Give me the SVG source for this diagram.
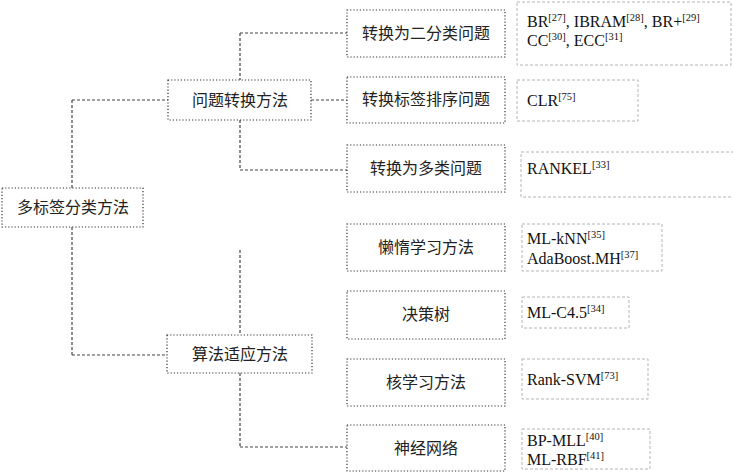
<svg xmlns="http://www.w3.org/2000/svg" width="733" height="473" viewBox="0 0 733 473">
<style>
.mid{fill:#fff;stroke:#333;stroke-width:1.2;stroke-dasharray:1.2 2}
.ref{fill:#fff;stroke:#b4b4b4;stroke-width:1;stroke-dasharray:3 2}
.cn{font-family:"Noto Sans CJK SC","Noto Sans CJK JP",sans-serif;font-size:16px;fill:#222;text-anchor:middle}
.en{font-family:"Liberation Serif",serif;font-size:16px;fill:#111}
.sup{font-size:10.5px}
.con{fill:none;stroke:#444;stroke-width:1.2;stroke-dasharray:3 2}
</style>
<rect width="733" height="473" fill="#fff"/>
<g id="connectors">
<path class="con" d="M72 100V188M72 227V355M72 100H168M72 355H167"/>
<path class="con" d="M240 33V80M240 120V170M240 33H347M311 100H347M240 170H347"/>
<path class="con" d="M240 250V335M240 373V447M240 447H347"/>
</g>
<g id="root"><rect class="mid" x="2" y="188" width="141" height="39"/><text class="cn" x="73" y="213">多标签分类方法</text></g>
<g id="pt"><rect class="mid" x="168" y="80" width="143" height="40"/><text class="cn" x="240" y="106">问题转换方法</text></g>
<g id="aa"><rect class="mid" x="167" y="335" width="145" height="38"/><text class="cn" x="240" y="360">算法适应方法</text></g>
<g id="m1"><rect class="mid" x="347" y="10" width="158" height="47"/><text class="cn" x="426" y="39">转换为二分类问题</text></g>
<g id="m2"><rect class="mid" x="347" y="77" width="158" height="46"/><text class="cn" x="426" y="105">转换标签排序问题</text></g>
<g id="m3"><rect class="mid" x="347" y="145" width="158" height="47"/><text class="cn" x="426" y="174">转换为多类问题</text></g>
<g id="m4"><rect class="mid" x="347" y="224" width="158" height="47"/><text class="cn" x="426" y="253">懒惰学习方法</text></g>
<g id="m5"><rect class="mid" x="347" y="291" width="158" height="48"/><text class="cn" x="426" y="320">决策树</text></g>
<g id="m6"><rect class="mid" x="347" y="359" width="158" height="47"/><text class="cn" x="426" y="388">核学习方法</text></g>
<g id="m7"><rect class="mid" x="347" y="425" width="158" height="46"/><text class="cn" x="426" y="454">神经网络</text></g>
<g id="r1"><rect class="ref" x="517" y="2" width="214" height="63"/>
<text class="en" x="527" y="27">BR<tspan class="sup" dy="-6">[27]</tspan><tspan dy="6">, IBRAM</tspan><tspan class="sup" dy="-6">[28]</tspan><tspan dy="6">, BR+</tspan><tspan class="sup" dy="-6">[29]</tspan></text>
<text class="en" x="527" y="46">CC<tspan class="sup" dy="-6">[30]</tspan><tspan dy="6">, ECC</tspan><tspan class="sup" dy="-6">[31]</tspan></text></g>
<g id="r2"><rect class="ref" x="517" y="80" width="121" height="41"/>
<text class="en" x="527" y="106">CLR<tspan class="sup" dy="-6">[75]</tspan></text></g>
<g id="r3"><rect class="ref" x="521" y="152" width="220" height="45"/>
<text class="en" x="527" y="174">RANKEL<tspan class="sup" dy="-6">[33]</tspan></text></g>
<g id="r4"><rect class="ref" x="522" y="224" width="140" height="47"/>
<text class="en" x="527" y="244">ML-kNN<tspan class="sup" dy="-6">[35]</tspan></text>
<text class="en" x="527" y="264">AdaBoost.MH<tspan class="sup" dy="-6">[37]</tspan></text></g>
<g id="r5"><rect class="ref" x="522" y="297" width="107" height="31"/>
<text class="en" x="527" y="318">ML-C4.5<tspan class="sup" dy="-6">[34]</tspan></text></g>
<g id="r6"><rect class="ref" x="522" y="359" width="126" height="40"/>
<text class="en" x="527" y="385">Rank-SVM<tspan class="sup" dy="-6">[73]</tspan></text></g>
<g id="r7"><rect class="ref" x="522" y="429" width="128" height="40"/>
<text class="en" x="527" y="446">BP-MLL<tspan class="sup" dy="-6">[40]</tspan></text>
<text class="en" x="527" y="465">ML-RBF<tspan class="sup" dy="-6">[41]</tspan></text></g>
</svg>
